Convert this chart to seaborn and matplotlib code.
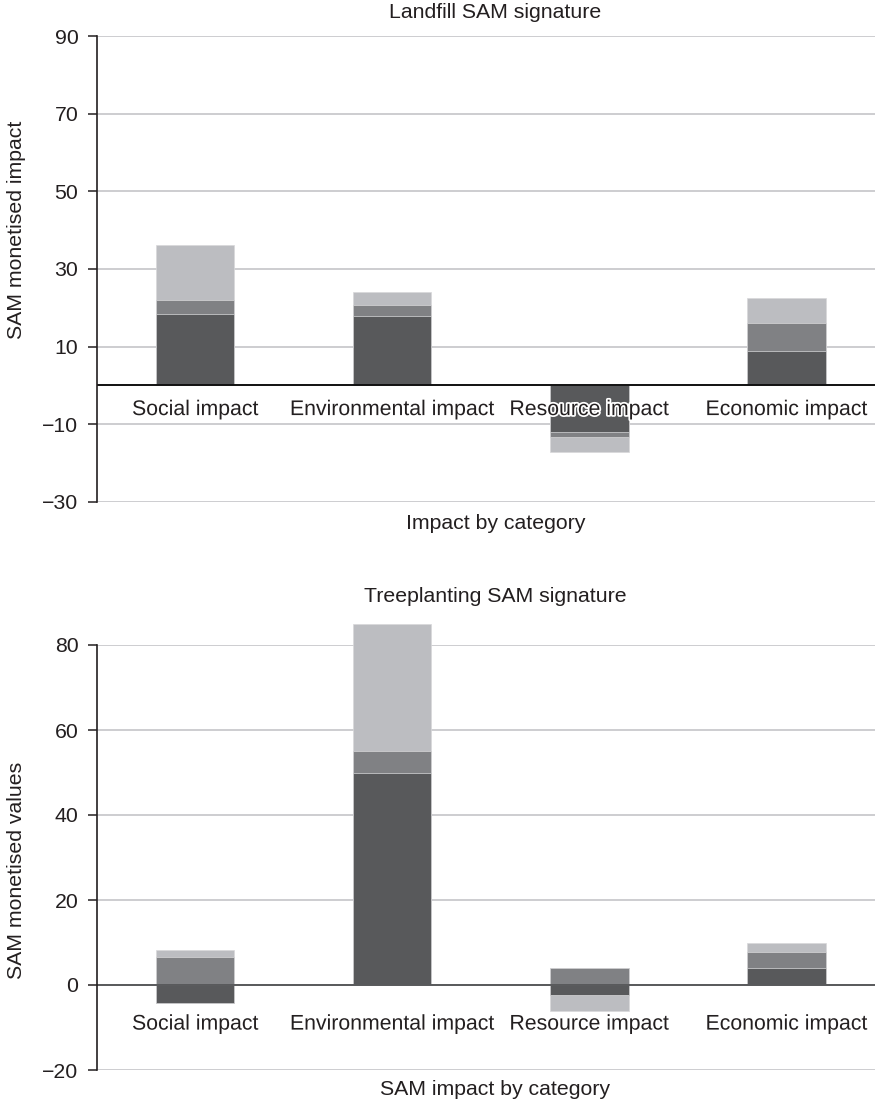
import matplotlib
matplotlib.use("Agg")
import matplotlib.pyplot as plt
import matplotlib.patheffects as pe
import numpy as np
import seaborn as sns

"""
Landfill vs treeplanting SAM signatures, two stacked bar charts.
"""

categories = ["Social impact", "Environmental impact", "Resource impact", "Economic impact"]

# landfill segments (dark = bottom, mid, light = top)
landfill_dark = [18.3, 18.0, -12.1, 8.8]
landfill_mid = [3.8, 2.8, -1.1, 7.2]
landfill_light = [14.2, 3.2, -4.0, 6.6]

# treeplanting segments
tree_dark = [-4.2, 50.0, -2.4, 4.1]
tree_mid = [6.7, 5.0, 4.1, 3.7]
tree_light = [1.5, 30.0, -3.7, 2.2]

landfill_ticks = [90, 70, 50, 30, 10, -10, -30]
tree_ticks = [80, 60, 40, 20, 0, -20]

colors = ["#58595b", "#808184", "#bcbdc1"]
txt = "#231f20"

sns.set_style("white")
plt.rcParams["font.family"] = ["Liberation Sans", "DejaVu Sans"]
plt.rcParams["font.size"] = 15.3


def stacked(ax, series):
    # positives and negatives stack separately, like the spreadsheet did
    pos = np.zeros(len(categories))
    neg = np.zeros(len(categories))
    cums = []
    for vals in series:
        vals = np.array(vals, dtype=float)
        pos = pos + np.clip(vals, 0, None)
        neg = neg + np.clip(vals, None, 0)
        cums.append((pos.copy(), neg.copy()))
    # draw the tallest cumulative first, then overlay the lower ones
    for (p, n), color in reversed(list(zip(cums, colors))):
        for c in (p, n):
            sns.barplot(x=categories, y=c, order=categories, color=color, saturation=1,
                        width=0.4, errorbar=None, ax=ax, edgecolor="#d8d8da",
                        linewidth=0.5, clip_on=False, zorder=2)


def style(ax, ticks, ylim, zero_color, title, xlabel, ylabel, title_y, xlabel_y, ylabel_y, cat_y):
    ax.set_ylim(ylim)
    ax.set_xlim(-0.497, 3.45)
    ax.set_yticks(ticks)
    ax.set_xticks([])
    ax.set_xlabel("")
    ax.set_ylabel("")
    ax.yaxis.grid(True, color="#cdcdd0", linewidth=1.4)
    ax.set_axisbelow(True)
    for s in ["top", "right", "bottom"]:
        ax.spines[s].set_visible(False)
    ax.spines["left"].set_color(txt)
    ax.spines["left"].set_linewidth(1.2)
    ax.spines["left"].set_zorder(4)
    ax.tick_params(axis="y", left=True, length=6.5, width=1.1, color=txt, pad=7,
                   labelcolor=txt, labelsize=15.3)
    ax.axhline(0, color=zero_color, linewidth=1.4, zorder=3)
    ax.text(0.512, title_y, title, transform=ax.transAxes, ha="center", va="center", color=txt)
    ax.text(0.512, xlabel_y, xlabel, transform=ax.transAxes, ha="center", va="center", color=txt)
    ax.text(-0.104, ylabel_y, ylabel, transform=ax.transAxes, ha="center", va="center",
            rotation=90, color=txt)
    for i, cat in enumerate(categories):
        ax.text(i, cat_y, cat, ha="center", va="center", color=txt, zorder=5,
                path_effects=[pe.withStroke(linewidth=2.5, foreground="white")])


fig = plt.figure(figsize=(8.77, 11.06), dpi=100)
ax1 = fig.add_axes([97 / 877, 1 - 502 / 1106, 778 / 877, 466 / 1106])
ax2 = fig.add_axes([97 / 877, 1 - 1070 / 1106, 778 / 877, 425 / 1106])

stacked(ax1, [landfill_dark, landfill_mid, landfill_light])
style(ax1, landfill_ticks, (-30, 90), "#111111", "Landfill SAM signature",
      "Impact by category", "SAM monetised impact", 1.0515, -0.047, 0.584, -6.2)

stacked(ax2, [tree_dark, tree_mid, tree_light])
style(ax2, tree_ticks, (-20, 80), "#58595b", "Treeplanting SAM signature",
      "SAM impact by category", "SAM monetised values", 1.113, -0.045, 0.47, -9.2)

plt.savefig("out.png", dpi=100)
